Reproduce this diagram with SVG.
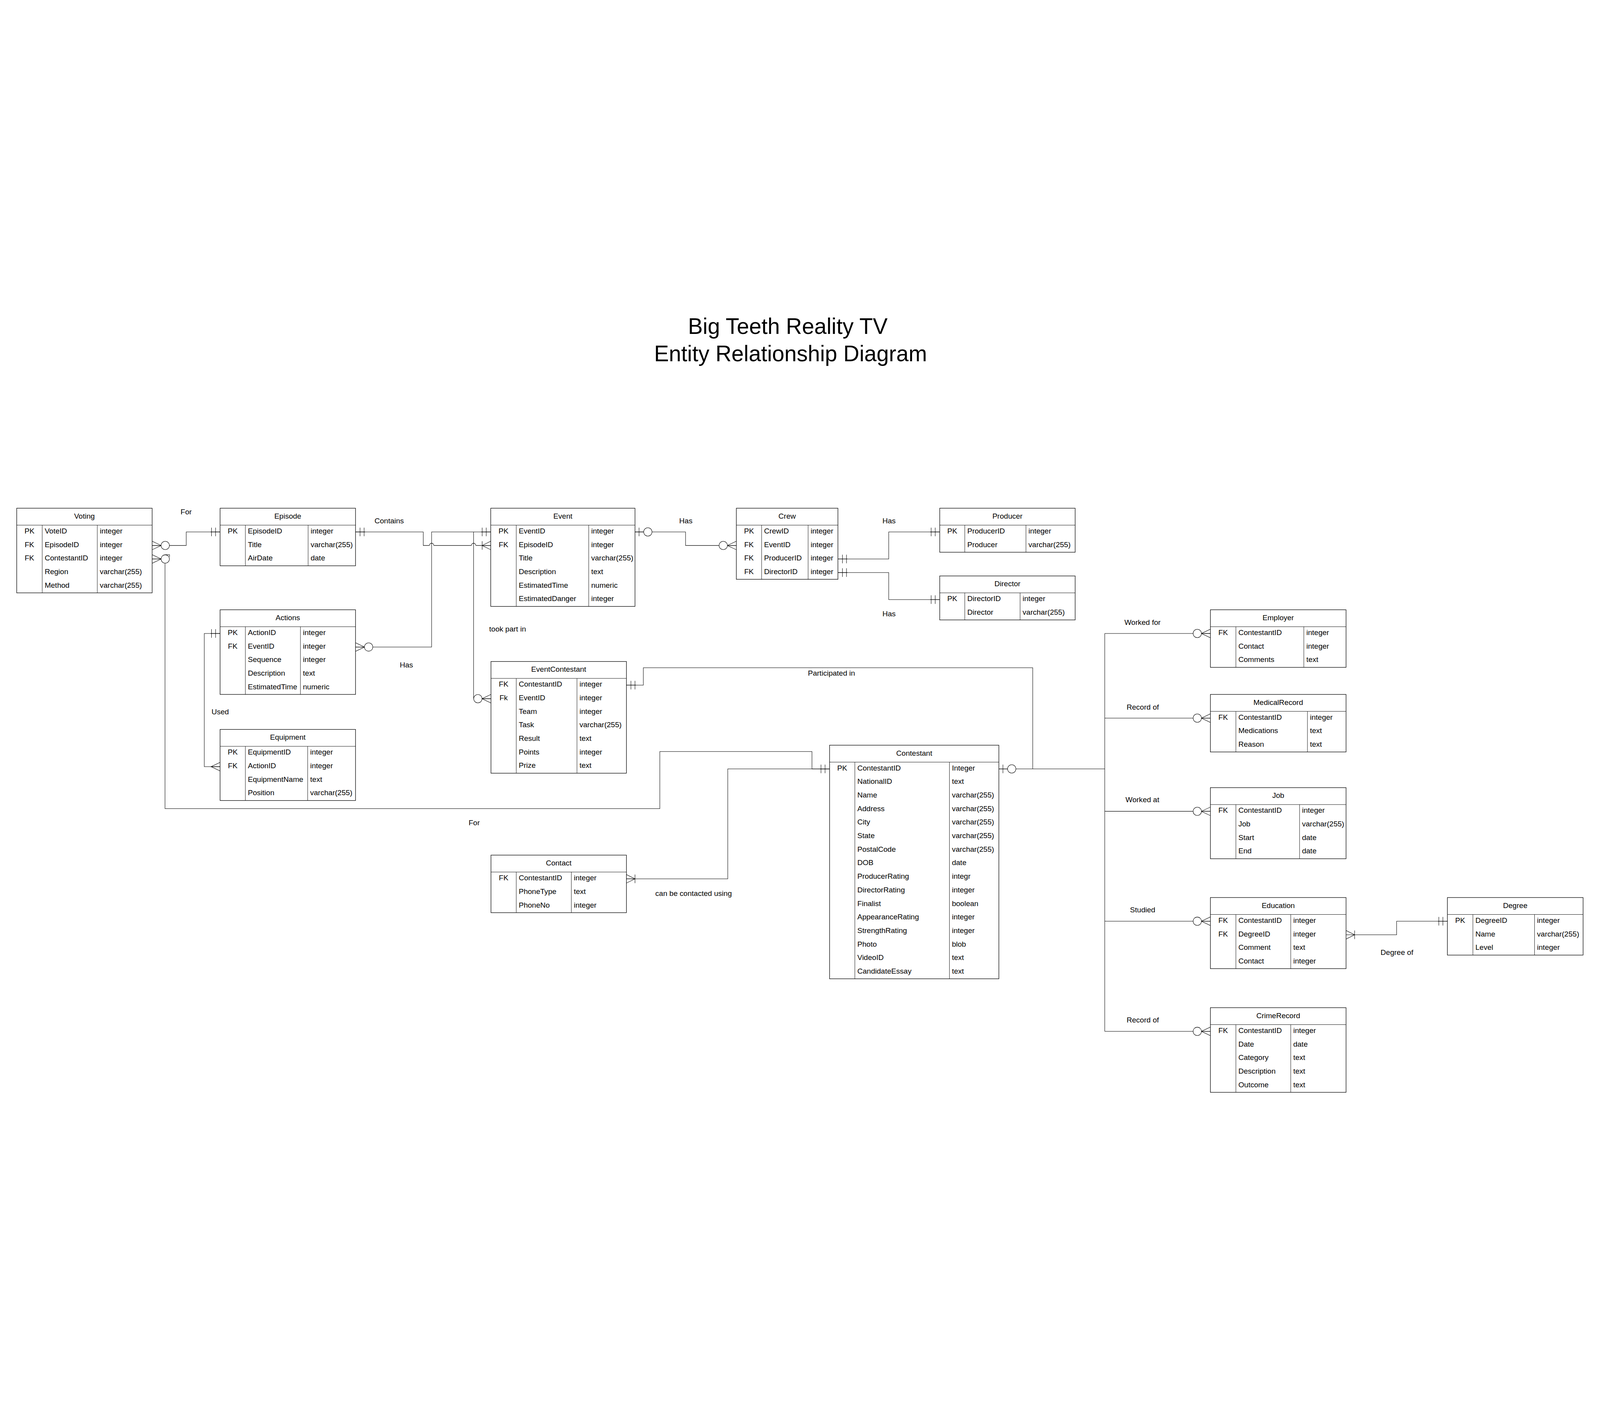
<svg xmlns="http://www.w3.org/2000/svg" width="7088" height="3600" viewBox="0 0 7088 3600" style="width:100vw;height:100vh;display:block">
<style>
.t{font-family:"Liberation Sans",Arial,sans-serif;font-size:33px;fill:#000}
.m{text-anchor:middle}
.ttl{font-family:"Liberation Sans",Arial,sans-serif;font-size:98px;fill:#000;text-anchor:middle}
.box{fill:#fff;stroke:#000;stroke-width:2.2}
.ln{fill:none;stroke:#000;stroke-width:1.6}
.c{fill:none;stroke:#000;stroke-width:1.8}
.mk{fill:none;stroke:#000;stroke-width:1.8}
.o{fill:#fff;stroke:#000;stroke-width:1.8}
</style>
<defs>
<g id="mOne"><path class="mk" d="M0,0H42M20,-19V19M38,-19V19"/></g>
<g id="zMany"><path class="mk" d="M0,-19L40,0L0,19M0,0H40"/><circle class="o" cx="58" cy="0" r="18.5"/></g>
<g id="zOne"><path class="mk" d="M0,0H40M18,-19V19"/><circle class="o" cx="57" cy="0" r="18.5"/></g>
<g id="oMany"><path class="mk" d="M0,-19L38,0L0,19M0,0H40M38,-19V19"/></g>
<g id="many"><path class="mk" d="M0,-19L40,0L0,19M0,0H40"/></g>
</defs>
<rect x="0" y="0" width="7088" height="3600" fill="#fff"/>

<g id="title">
<text class="ttl" x="3490" y="164">Big Teeth Reality TV</text>
<text class="ttl" x="3502" y="285">Entity Relationship Diagram</text>
</g>

<g id="Voting">
<rect class="box" x="74" y="937" width="600" height="375"/>
<path class="ln" d="M74,1012H674M187,1012V1312M431,1012V1312"/>
<text class="t m" x="374" y="983">Voting</text>
<text class="t m" x="130.5" y="1049">PK</text><text class="t" x="198" y="1049">VoteID</text><text class="t" x="442" y="1049">integer</text>
<text class="t m" x="130.5" y="1109">FK</text><text class="t" x="198" y="1109">EpisodeID</text><text class="t" x="442" y="1109">integer</text>
<text class="t m" x="130.5" y="1169">FK</text><text class="t" x="198" y="1169">ContestantID</text><text class="t" x="442" y="1169">integer</text>
<text class="t" x="198" y="1229">Region</text><text class="t" x="442" y="1229">varchar(255)</text>
<text class="t" x="198" y="1289">Method</text><text class="t" x="442" y="1289">varchar(255)</text>
</g>

<g id="Episode">
<rect class="box" x="975" y="937" width="600" height="255"/>
<path class="ln" d="M975,1012H1575M1087,1012V1192M1365,1012V1192"/>
<text class="t m" x="1275" y="983">Episode</text>
<text class="t m" x="1031" y="1049">PK</text><text class="t" x="1098" y="1049">EpisodeID</text><text class="t" x="1376" y="1049">integer</text>
<text class="t" x="1098" y="1109">Title</text><text class="t" x="1376" y="1109">varchar(255)</text>
<text class="t" x="1098" y="1169">AirDate</text><text class="t" x="1376" y="1169">date</text>
</g>

<g id="Actions">
<rect class="box" x="975" y="1387" width="600" height="375"/>
<path class="ln" d="M975,1462H1575M1087,1462V1762M1331,1462V1762"/>
<text class="t m" x="1275" y="1433">Actions</text>
<text class="t m" x="1031" y="1499">PK</text><text class="t" x="1098" y="1499">ActionID</text><text class="t" x="1342" y="1499">integer</text>
<text class="t m" x="1031" y="1559">FK</text><text class="t" x="1098" y="1559">EventID</text><text class="t" x="1342" y="1559">integer</text>
<text class="t" x="1098" y="1619">Sequence</text><text class="t" x="1342" y="1619">integer</text>
<text class="t" x="1098" y="1679">Description</text><text class="t" x="1342" y="1679">text</text>
<text class="t" x="1098" y="1739">EstimatedTime</text><text class="t" x="1342" y="1739">numeric</text>
</g>

<g id="Equipment">
<rect class="box" x="975" y="1917" width="600" height="315"/>
<path class="ln" d="M975,1992H1575M1087,1992V2232M1363,1992V2232"/>
<text class="t m" x="1275" y="1963">Equipment</text>
<text class="t m" x="1031" y="2029">PK</text><text class="t" x="1098" y="2029">EquipmentID</text><text class="t" x="1374" y="2029">integer</text>
<text class="t m" x="1031" y="2089">FK</text><text class="t" x="1098" y="2089">ActionID</text><text class="t" x="1374" y="2089">integer</text>
<text class="t" x="1098" y="2149">EquipmentName</text><text class="t" x="1374" y="2149">text</text>
<text class="t" x="1098" y="2209">Position</text><text class="t" x="1374" y="2209">varchar(255)</text>
</g>

<g id="Event">
<rect class="box" x="2174" y="937" width="639" height="435"/>
<path class="ln" d="M2174,1012H2813M2287,1012V1372M2608,1012V1372"/>
<text class="t m" x="2493.5" y="983">Event</text>
<text class="t m" x="2230.5" y="1049">PK</text><text class="t" x="2298" y="1049">EventID</text><text class="t" x="2619" y="1049">integer</text>
<text class="t m" x="2230.5" y="1109">FK</text><text class="t" x="2298" y="1109">EpisodeID</text><text class="t" x="2619" y="1109">integer</text>
<text class="t" x="2298" y="1169">Title</text><text class="t" x="2619" y="1169">varchar(255)</text>
<text class="t" x="2298" y="1229">Description</text><text class="t" x="2619" y="1229">text</text>
<text class="t" x="2298" y="1289">EstimatedTime</text><text class="t" x="2619" y="1289">numeric</text>
<text class="t" x="2298" y="1349">EstimatedDanger</text><text class="t" x="2619" y="1349">integer</text>
</g>

<g id="Crew">
<rect class="box" x="3262" y="937" width="450" height="315"/>
<path class="ln" d="M3262,1012H3712M3374,1012V1252M3580,1012V1252"/>
<text class="t m" x="3487" y="983">Crew</text>
<text class="t m" x="3318" y="1049">PK</text><text class="t" x="3385" y="1049">CrewID</text><text class="t" x="3591" y="1049">integer</text>
<text class="t m" x="3318" y="1109">FK</text><text class="t" x="3385" y="1109">EventID</text><text class="t" x="3591" y="1109">integer</text>
<text class="t m" x="3318" y="1169">FK</text><text class="t" x="3385" y="1169">ProducerID</text><text class="t" x="3591" y="1169">integer</text>
<text class="t m" x="3318" y="1229">FK</text><text class="t" x="3385" y="1229">DirectorID</text><text class="t" x="3591" y="1229">integer</text>
</g>

<g id="Producer">
<rect class="box" x="4163" y="937" width="600" height="195"/>
<path class="ln" d="M4163,1012H4763M4274,1012V1132M4545,1012V1132"/>
<text class="t m" x="4463" y="983">Producer</text>
<text class="t m" x="4218.5" y="1049">PK</text><text class="t" x="4285" y="1049">ProducerID</text><text class="t" x="4556" y="1049">integer</text>
<text class="t" x="4285" y="1109">Producer</text><text class="t" x="4556" y="1109">varchar(255)</text>
</g>

<g id="Director">
<rect class="box" x="4163" y="1237" width="600" height="195"/>
<path class="ln" d="M4163,1312H4763M4274,1312V1432M4519,1312V1432"/>
<text class="t m" x="4463" y="1283">Director</text>
<text class="t m" x="4218.5" y="1349">PK</text><text class="t" x="4285" y="1349">DirectorID</text><text class="t" x="4530" y="1349">integer</text>
<text class="t" x="4285" y="1409">Director</text><text class="t" x="4530" y="1409">varchar(255)</text>
</g>

<g id="EventContestant">
<rect class="box" x="2175" y="1616" width="600" height="495"/>
<path class="ln" d="M2175,1691H2775M2287,1691V2111M2556,1691V2111"/>
<text class="t m" x="2475" y="1662">EventContestant</text>
<text class="t m" x="2231" y="1728">FK</text><text class="t" x="2298" y="1728">ContestantID</text><text class="t" x="2567" y="1728">integer</text>
<text class="t m" x="2231" y="1788">Fk</text><text class="t" x="2298" y="1788">EventID</text><text class="t" x="2567" y="1788">integer</text>
<text class="t" x="2298" y="1848">Team</text><text class="t" x="2567" y="1848">integer</text>
<text class="t" x="2298" y="1908">Task</text><text class="t" x="2567" y="1908">varchar(255)</text>
<text class="t" x="2298" y="1968">Result</text><text class="t" x="2567" y="1968">text</text>
<text class="t" x="2298" y="2028">Points</text><text class="t" x="2567" y="2028">integer</text>
<text class="t" x="2298" y="2088">Prize</text><text class="t" x="2567" y="2088">text</text>
</g>

<g id="Contact">
<rect class="box" x="2175" y="2474" width="600" height="255"/>
<path class="ln" d="M2175,2549H2775M2287,2549V2729M2531,2549V2729"/>
<text class="t m" x="2475" y="2520">Contact</text>
<text class="t m" x="2231" y="2586">FK</text><text class="t" x="2298" y="2586">ContestantID</text><text class="t" x="2542" y="2586">integer</text>
<text class="t" x="2298" y="2646">PhoneType</text><text class="t" x="2542" y="2646">text</text>
<text class="t" x="2298" y="2706">PhoneNo</text><text class="t" x="2542" y="2706">integer</text>
</g>

<g id="Contestant">
<rect class="box" x="3675" y="1987" width="750" height="1035"/>
<path class="ln" d="M3675,2062H4425M3787,2062V3022M4206,2062V3022"/>
<text class="t m" x="4050" y="2033">Contestant</text>
<text class="t m" x="3731" y="2099">PK</text><text class="t" x="3798" y="2099">ContestantID</text><text class="t" x="4217" y="2099">Integer</text>
<text class="t" x="3798" y="2159">NationalID</text><text class="t" x="4217" y="2159">text</text>
<text class="t" x="3798" y="2219">Name</text><text class="t" x="4217" y="2219">varchar(255)</text>
<text class="t" x="3798" y="2279">Address</text><text class="t" x="4217" y="2279">varchar(255)</text>
<text class="t" x="3798" y="2339">City</text><text class="t" x="4217" y="2339">varchar(255)</text>
<text class="t" x="3798" y="2399">State</text><text class="t" x="4217" y="2399">varchar(255)</text>
<text class="t" x="3798" y="2459">PostalCode</text><text class="t" x="4217" y="2459">varchar(255)</text>
<text class="t" x="3798" y="2519">DOB</text><text class="t" x="4217" y="2519">date</text>
<text class="t" x="3798" y="2579">ProducerRating</text><text class="t" x="4217" y="2579">integr</text>
<text class="t" x="3798" y="2639">DirectorRating</text><text class="t" x="4217" y="2639">integer</text>
<text class="t" x="3798" y="2699">Finalist</text><text class="t" x="4217" y="2699">boolean</text>
<text class="t" x="3798" y="2759">AppearanceRating</text><text class="t" x="4217" y="2759">integer</text>
<text class="t" x="3798" y="2819">StrengthRating</text><text class="t" x="4217" y="2819">integer</text>
<text class="t" x="3798" y="2879">Photo</text><text class="t" x="4217" y="2879">blob</text>
<text class="t" x="3798" y="2939">VideoID</text><text class="t" x="4217" y="2939">text</text>
<text class="t" x="3798" y="2999">CandidateEssay</text><text class="t" x="4217" y="2999">text</text>
</g>

<g id="Employer">
<rect class="box" x="5362" y="1387" width="601" height="255"/>
<path class="ln" d="M5362,1462H5963M5475,1462V1642M5776,1462V1642"/>
<text class="t m" x="5662.5" y="1433">Employer</text>
<text class="t m" x="5418.5" y="1499">FK</text><text class="t" x="5486" y="1499">ContestantID</text><text class="t" x="5787" y="1499">integer</text>
<text class="t" x="5486" y="1559">Contact</text><text class="t" x="5787" y="1559">integer</text>
<text class="t" x="5486" y="1619">Comments</text><text class="t" x="5787" y="1619">text</text>
</g>

<g id="MedicalRecord">
<rect class="box" x="5362" y="1762" width="601" height="255"/>
<path class="ln" d="M5362,1837H5963M5475,1837V2017M5792,1837V2017"/>
<text class="t m" x="5662.5" y="1808">MedicalRecord</text>
<text class="t m" x="5418.5" y="1874">FK</text><text class="t" x="5486" y="1874">ContestantID</text><text class="t" x="5803" y="1874">integer</text>
<text class="t" x="5486" y="1934">Medications</text><text class="t" x="5803" y="1934">text</text>
<text class="t" x="5486" y="1994">Reason</text><text class="t" x="5803" y="1994">text</text>
</g>

<g id="Job">
<rect class="box" x="5362" y="2175" width="601" height="315"/>
<path class="ln" d="M5362,2250H5963M5475,2250V2490M5757,2250V2490"/>
<text class="t m" x="5662.5" y="2221">Job</text>
<text class="t m" x="5418.5" y="2287">FK</text><text class="t" x="5486" y="2287">ContestantID</text><text class="t" x="5768" y="2287">integer</text>
<text class="t" x="5486" y="2347">Job</text><text class="t" x="5768" y="2347">varchar(255)</text>
<text class="t" x="5486" y="2407">Start</text><text class="t" x="5768" y="2407">date</text>
<text class="t" x="5486" y="2467">End</text><text class="t" x="5768" y="2467">date</text>
</g>

<g id="Education">
<rect class="box" x="5362" y="2662" width="601" height="315"/>
<path class="ln" d="M5362,2737H5963M5475,2737V2977M5718,2737V2977"/>
<text class="t m" x="5662.5" y="2708">Education</text>
<text class="t m" x="5418.5" y="2774">FK</text><text class="t" x="5486" y="2774">ContestantID</text><text class="t" x="5729" y="2774">integer</text>
<text class="t m" x="5418.5" y="2834">FK</text><text class="t" x="5486" y="2834">DegreeID</text><text class="t" x="5729" y="2834">integer</text>
<text class="t" x="5486" y="2894">Comment</text><text class="t" x="5729" y="2894">text</text>
<text class="t" x="5486" y="2954">Contact</text><text class="t" x="5729" y="2954">integer</text>
</g>

<g id="CrimeRecord">
<rect class="box" x="5362" y="3150" width="601" height="375"/>
<path class="ln" d="M5362,3225H5963M5475,3225V3525M5718,3225V3525"/>
<text class="t m" x="5662.5" y="3196">CrimeRecord</text>
<text class="t m" x="5418.5" y="3262">FK</text><text class="t" x="5486" y="3262">ContestantID</text><text class="t" x="5729" y="3262">integer</text>
<text class="t" x="5486" y="3322">Date</text><text class="t" x="5729" y="3322">date</text>
<text class="t" x="5486" y="3382">Category</text><text class="t" x="5729" y="3382">text</text>
<text class="t" x="5486" y="3442">Description</text><text class="t" x="5729" y="3442">text</text>
<text class="t" x="5486" y="3502">Outcome</text><text class="t" x="5729" y="3502">text</text>
</g>

<g id="Degree">
<rect class="box" x="6412" y="2662" width="601" height="255"/>
<path class="ln" d="M6412,2737H7013M6525,2737V2917M6798,2737V2917"/>
<text class="t m" x="6712.5" y="2708">Degree</text>
<text class="t m" x="6468.5" y="2774">PK</text><text class="t" x="6536" y="2774">DegreeID</text><text class="t" x="6809" y="2774">integer</text>
<text class="t" x="6536" y="2834">Name</text><text class="t" x="6809" y="2834">varchar(255)</text>
<text class="t" x="6536" y="2894">Level</text><text class="t" x="6809" y="2894">integer</text>
</g>

<g id="connectors">
<path class="c" d="M674,1102H825V1042H975"/>
<path class="c" d="M674,1162H731V2268H2923V2015H3597V2092H3675"/>
<path class="c" d="M1575,1042H1875V1102H1902A10,10 0 0 1 1922,1102H2088A10,10 0 0 1 2108,1102H2174"/>
<path class="c" d="M1575,1552H1912V1042H2174"/>
<path class="c" d="M2098,1042V1781H2175"/>
<path class="c" d="M975,1492H905V2082H975"/>
<path class="c" d="M2813,1042H3037V1102H3262"/>
<path class="c" d="M3712,1162H3937V1042H4163"/>
<path class="c" d="M3712,1222H3937V1342H4163"/>
<path class="c" d="M2775,1721H2850V1644H4575V2092"/>
<path class="c" d="M2775,2579H3224V2092H3675"/>
<path class="c" d="M4425,2092H4894"/>
<path class="c" d="M4894,1492V3255M4894,1492H5362M4894,1867H5362M4894,2280H5362M4894,2767H5362M4894,3255H5362"/>
<path class="c" d="M5963,2827H6187V2767H6412"/>
<use href="#zMany" transform="translate(674,1102)"/>
<use href="#zMany" transform="translate(674,1162)"/>
<path class="c" d="M730,1143H751V1153"/>
<use href="#zMany" transform="translate(1575,1552)"/>
<use href="#zMany" transform="translate(2175,1781) scale(-1,1)"/>
<use href="#zMany" transform="translate(3262,1102) scale(-1,1)"/>
<use href="#zMany" transform="translate(5362,1492) scale(-1,1)"/>
<use href="#zMany" transform="translate(5362,1867) scale(-1,1)"/>
<use href="#zMany" transform="translate(5362,2280) scale(-1,1)"/>
<use href="#zMany" transform="translate(5362,2767) scale(-1,1)"/>
<use href="#zMany" transform="translate(5362,3255) scale(-1,1)"/>
<use href="#mOne" transform="translate(975,1042) scale(-1,1)"/>
<use href="#mOne" transform="translate(2174,1042) scale(-1,1)"/>
<use href="#mOne" transform="translate(975,1492) scale(-1,1)"/>
<use href="#mOne" transform="translate(4163,1042) scale(-1,1)"/>
<use href="#mOne" transform="translate(4163,1342) scale(-1,1)"/>
<use href="#mOne" transform="translate(3675,2092) scale(-1,1)"/>
<use href="#mOne" transform="translate(6412,2767) scale(-1,1)"/>
<use href="#mOne" transform="translate(1575,1042)"/>
<use href="#mOne" transform="translate(3712,1162)"/>
<use href="#mOne" transform="translate(3712,1222)"/>
<use href="#mOne" transform="translate(2775,1721)"/>
<use href="#oMany" transform="translate(2174,1102) scale(-1,1)"/>
<use href="#oMany" transform="translate(2775,2579)"/>
<use href="#oMany" transform="translate(5963,2827)"/>
<use href="#many" transform="translate(975,2082) scale(-1,1)"/>
<use href="#zOne" transform="translate(2813,1042)"/>
<use href="#zOne" transform="translate(4425,2092)"/>
</g>

<g id="labels">
<text class="t" x="800" y="965">For</text>
<text class="t" x="1659" y="1004">Contains</text>
<text class="t" x="3009" y="1004">Has</text>
<text class="t" x="3909" y="1004">Has</text>
<text class="t" x="3909" y="1415">Has</text>
<text class="t" x="2167" y="1483">took part in</text>
<text class="t" x="1771" y="1642">Has</text>
<text class="t" x="937" y="1850">Used</text>
<text class="t" x="3579" y="1679">Participated in</text>
<text class="t" x="2076" y="2342">For</text>
<text class="t" x="2903" y="2654">can be contacted using</text>
<text class="t" x="4981" y="1454">Worked for</text>
<text class="t" x="4991" y="1829">Record of</text>
<text class="t" x="4986" y="2240">Worked at</text>
<text class="t" x="5006" y="2728">Studied</text>
<text class="t" x="4991" y="3216">Record of</text>
<text class="t" x="6116" y="2916">Degree of</text>
</g>
</svg>
